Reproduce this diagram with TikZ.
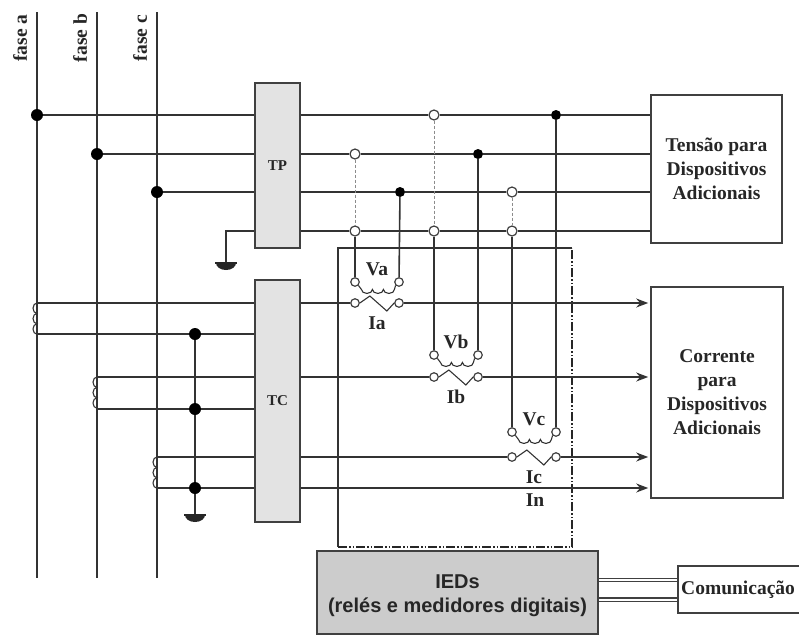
\documentclass[tikz,border=0pt]{standalone}
\usepackage{fontspec}
\setmainfont{Liberation Serif}
\newfontfamily\arialfont{Liberation Sans}
\usetikzlibrary{positioning,calc,arrows.meta}

% simbolo de terra
\newcommand{\terra}[1]{%
  \fill[black!85] ([xshift=10pt]#1) arc[start angle=0,end angle=180,x radius=10,y radius=7] -- cycle;
  \draw[line width=1.8pt,black!85] ([xshift=-11pt]#1) -- ([xshift=11pt]#1);}

\begin{document}
\begin{tikzpicture}[x=1pt,y=-1pt]
  \tikzstyle{wire}=[draw=black!80,line width=1.6pt]
  \tikzstyle{fine}=[draw=black!80,line width=1.1pt]
  \tikzstyle{box}=[draw=black!75,line width=1.6pt,rectangle,inner sep=0,align=center]
  \tikzstyle{tbox}=[box,fill=black!11,font=\bfseries\fontsize{15}{18}\selectfont,text=black!85,minimum width=45]
  \tikzstyle{txt}=[font=\bfseries\fontsize{19.5}{24}\selectfont,text=black!85,inner sep=0,align=center]
  \tikzstyle{dot}=[circle,fill=black,minimum size=12,inner sep=0]
  \tikzstyle{sdot}=[dot,minimum size=10]
  \tikzstyle{odot}=[circle,draw=black!75,fill=white,line width=1.2pt,minimum size=10,inner sep=0]
  \tikzstyle{term}=[odot,minimum size=8.5]
  \tikzstyle{dashv}=[draw=black!45,line width=1pt,dash pattern=on 3pt off 2pt]
  \tikzstyle{dashdot}=[draw=black!85,line width=1.2pt,dash pattern=on 9pt off 2pt on 1.5pt off 2pt on 1.5pt off 2pt]
  \tikzstyle{arr}=[wire,-{Stealth[length=12pt,width=9pt]},shorten >=2pt]
  \tikzstyle{comm}=[draw=black!75,line width=1.3pt,double=white,double distance=2pt]

  \useasboundingbox (0,0) rectangle (799,635);
  \clip (0,0) rectangle (799,635);

  % fases
  \foreach \f/\x in {a/37,b/97,c/157} {
    \coordinate (f\f1) at (\x,12);
    \coordinate (f\f2) at (\x,578);
    \draw[wire] (f\f1) -- (f\f2);
    \node[txt,rotate=90] (l\f) at (\x-17,38) {fase \f};
  }

  % caixas
  \node[tbox,minimum height=165] (tp) at (277.5,165.5) {TP};
  \node[tbox,minimum height=242] (tc) at (277.5,401) {TC};
  \node[box,txt,minimum width=131,minimum height=148] (tens) at (716.5,169) {Tensão para\\Dispositivos\\Adicionais};
  \node[box,txt,minimum width=132,minimum height=211] (corr) at (717,392.5) {Corrente\\para\\Dispositivos\\Adicionais};
  \node[box,fill=black!20,minimum width=281,minimum height=83] (ied) at (457.5,592.5) {};
  \node[font=\arialfont\bfseries\fontsize{20}{24}\selectfont,text=black!85,align=center,inner sep=0]
    (tied) at (457.5,596) {IEDs\\(relés e medidores digitais)};
  \node[box,minimum width=162,minimum height=47] (com) at (759,589.5) {};
  \node[txt,anchor=west] (tcom) at (681,590) {Comunicação};
  \draw[comm] ([yshift=12.5]ied.east) -- ([yshift=9.5]com.west);
  \draw[comm] ([yshift=-7]ied.east) -- ([yshift=-10]com.west);

  % caixa tracejada
  \coordinate (q1) at (338,248);
  \coordinate (q2) at (572,248);
  \coordinate (q3) at (572,547);
  \coordinate (q4) at (338,547);
  \draw[fine] (q2) -- (q1) -- (q4);
  \draw[dashdot] (q4) -- (q3) -- (q2);

  % barramento de tensao
  \node[dot] (da) at (37,115) {};
  \node[dot] (db) at (97,154) {};
  \node[dot] (dc) at (157,192) {};
  \node[odot] (oa) at (355,154) {};
  \node[odot] (ob) at (434,115) {};
  \node[odot] (oc) at (512,192) {};
  \node[odot] (na) at (355,231) {};
  \node[odot] (nb) at (434,231) {};
  \node[odot] (nc) at (512,231) {};
  \node[sdot] (pa) at (400,192) {};
  \node[sdot] (pb) at (478,154) {};
  \node[sdot] (pc) at (556,115) {};
  \coordinate (ga) at (226,263);
  \path[wire]
    (da) edge (da -| tp.west)
    (db) edge (db -| tp.west)
    (dc) edge (dc -| tp.west)
    (tp.east |- da) edge (ob) (ob) edge (pc) (pc) edge (pc -| tens.west)
    (tp.east |- db) edge (oa) (oa) edge (pb) (pb) edge (pb -| tens.west)
    (tp.east |- dc) edge (pa) (pa) edge (oc) (oc) edge (oc -| tens.west)
    (tp.east |- na) edge (na) (na) edge (nb) (nb) edge (nc) (nc) edge (nc -| tens.west);
  \draw[wire] (ga) |- (tp.west |- na);
  \terra{ga}
  \path[dashv] (oa) edge (na) (ob) edge (nb) (oc) edge (nc);

  % TPs e TCs de cada fase
  \foreach \f/\xl/\xr/\yv/\yi in {a/355/399/282/303, b/434/478/355/377, c/512/556/432/457} {
    \node[term] (v\f1) at (\xl,\yv) {};
    \node[term] (v\f2) at (\xr,\yv) {};
    \node[term] (i\f1) at (\xl,\yi) {};
    \node[term] (i\f2) at (\xr,\yi) {};
    \draw[fine] (v\f1.south east) -- ++(3,4)
      \foreach \k in {1,2,3} {arc[start angle=180,end angle=0,x radius=5.5,y radius=4]}
      -- (v\f2.south west);
    \draw[fine] (i\f1.east) -- ++(10,-7) -- ++(17,15) -- (i\f2.west);
    \node[txt] (lv\f) at (\xl+22,\yv-13) {V\f};
    \node[txt] (li\f) at (\xl+22,\yi+20) {I\f};
    \draw[wire] (i\f1 -| tc.east) -- (i\f1);
    \draw[arr] (i\f2) -- (i\f2 -| corr.west);
  }
  \path[wire] (na) edge (va1) (pa) edge (va2)
              (nb) edge (vb1) (pb) edge (vb2)
              (nc) edge (vc1) (pc) edge (vc2);

  % secundarios dos TCs
  \coordinate (ka1) at (37,303);
  \coordinate (ka2) at (37,334);
  \coordinate (kb1) at (97,377);
  \coordinate (kb2) at (97,409);
  \coordinate (kc1) at (157,457);
  \coordinate (kc2) at (157,488);
  \node[dot] (ma) at (195,334) {};
  \node[dot] (mb) at (195,409) {};
  \node[dot] (mc) at (195,488) {};
  \coordinate (gb) at (195,515);
  \foreach \f in {a,b,c} {
    \draw[fine] (k\f1)
      \foreach \k in {1,2,3} {arc[start angle=270,end angle=90,x radius=4,y radius=5.2]};
  }
  \path[wire]
    (ka1) edge (ka1 -| tc.west) (ka2) edge (ma) (ma) edge (ma -| tc.west)
    (kb1) edge (kb1 -| tc.west) (kb2) edge (mb) (mb) edge (mb -| tc.west)
    (kc1) edge (kc1 -| tc.west) (kc2) edge (mc) (mc) edge (mc -| tc.west)
    (ma) edge (mb) (mb) edge (mc) (mc) edge (gb);
  \terra{gb}
  \draw[arr] (mc -| tc.east) -- (mc -| corr.west);
  \node[txt] (lin) at (535,500) {In};
\end{tikzpicture}
\end{document}
